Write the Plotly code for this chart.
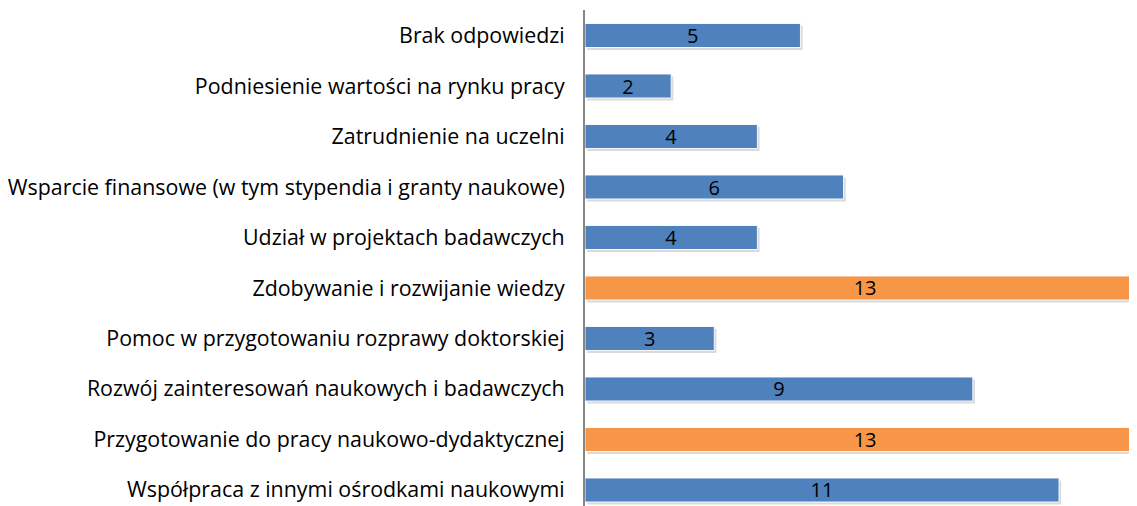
import plotly.graph_objects as go

categories = [
    "Współpraca z innymi ośrodkami naukowymi",
    "Przygotowanie do pracy naukowo-dydaktycznej",
    "Rozwój zainteresowań naukowych i badawczych",
    "Pomoc w przygotowaniu rozprawy doktorskiej",
    "Zdobywanie i rozwijanie wiedzy",
    "Udział w projektach badawczych",
    "Wsparcie finansowe (w tym stypendia i granty naukowe)",
    "Zatrudnienie na uczelni",
    "Podniesienie wartości na rynku pracy",
    "Brak odpowiedzi",
]
values = [11, 13, 9, 3, 13, 4, 6, 4, 2, 5]
highlight = [False, True, False, False, True, False, False, False, False, False]

BLUE = "#4F81BD"
ORANGE = "#F79646"
colors = [ORANGE if h else BLUE for h in highlight]

fig = go.Figure()
# soft shadow below/right of each bar
fig.add_trace(go.Bar(
    y=categories, x=values, orientation="h",
    marker=dict(color="rgba(150,150,150,0.35)", line=dict(width=0)),
    width=0.475, offset=-0.2375 - 0.05, base=0.05,
    hoverinfo="skip", showlegend=False,
))
fig.add_trace(go.Bar(
    y=categories, x=values, orientation="h",
    marker=dict(color=colors, line=dict(color="rgba(255,255,255,0.9)", width=1)),
    width=0.475, offset=-0.2375,
    text=[str(v) for v in values], textposition="inside", insidetextanchor="middle",
    textangle=0, constraintext="none",
    textfont=dict(family="Open Sans", size=20, color="#000000"),
    showlegend=False,
))
fig.update_layout(
    width=1129, height=498,
    margin=dict(l=577, r=0, t=2, b=0),
    paper_bgcolor="white", plot_bgcolor="white",
    barmode="overlay",
    font=dict(family="Open Sans", size=20, color="#000000"),
    xaxis=dict(range=[0, 12.81], visible=False, showgrid=False, zeroline=False),
    yaxis=dict(range=[-0.317, 9.505], showgrid=False, zeroline=False,
               showline=True, linecolor="#868686", linewidth=2,
               ticks="", ticklabelstandoff=14,
               tickfont=dict(family="Open Sans", size=21.4, color="#000000")),
)
fig.write_html("out.html")
